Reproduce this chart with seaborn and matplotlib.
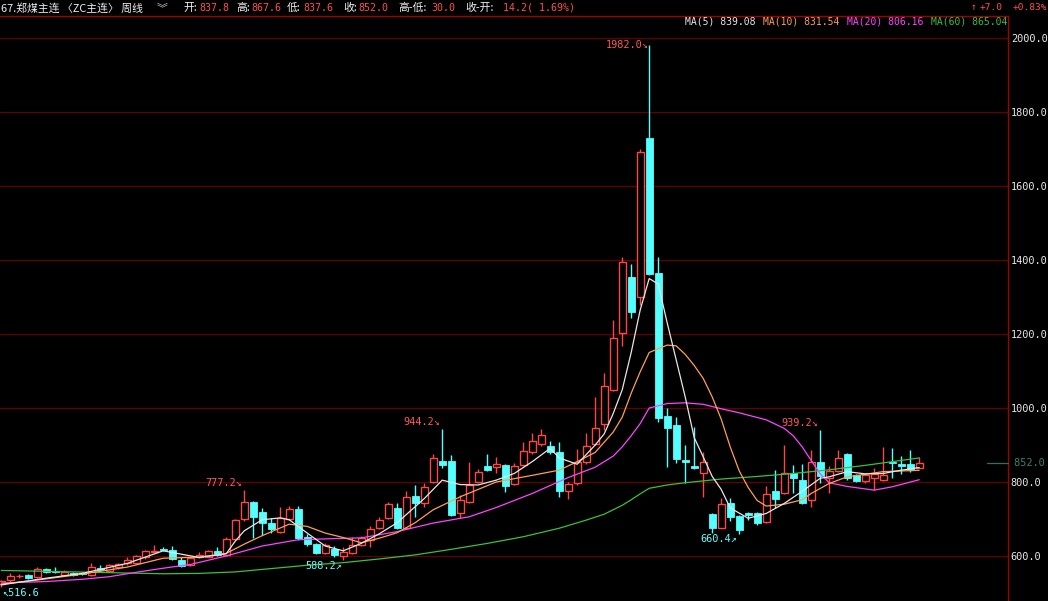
import numpy as np
import pandas as pd
import matplotlib
matplotlib.use("Agg")
import matplotlib.pyplot as plt
import matplotlib.transforms as mtransforms
import seaborn as sns

# ---------------- data (weekly OHLC) ----------------
opens = [524, 535, 545, 549, 544, 564, 560, 549, 553, 555,
         549, 568, 560, 569, 580, 582, 596, 612, 619, 616,
         590, 575, 596, 598, 613, 603, 647, 700, 745, 718,
         688, 666, 699, 726, 652, 633, 609, 619, 601, 608,
         629, 642, 675, 702, 729, 676, 762, 743, 799, 857,
         857, 716, 745, 800, 843, 840, 846, 795, 845, 880,
         904, 897, 881, 777, 796, 855, 904, 958, 1050, 1202,
         1355, 1301, 1731, 1366, 978, 954, 859, 843, 823, 713,
         677, 744, 708, 717, 715, 693, 776, 771, 825, 805,
         751, 855, 810, 830, 876, 819, 803, 812, 805, 855,
         850, 848, 837.8]
highs = [535, 553, 551, 552, 571, 567, 571, 563, 558, 557,
         582, 576, 578, 581, 598, 603, 615, 630, 625, 627,
         596, 596, 612, 615, 625, 652, 700, 777.2, 750, 729,
         704, 732, 735, 735, 660, 636, 636, 626, 625, 652,
         655, 680, 706, 747, 742, 777, 793, 796, 877, 944.2,
         873, 765, 855, 836, 876, 867, 850, 852, 909, 932,
         943, 910, 908, 800, 888, 933, 1030, 1094, 1238, 1408,
         1389, 1700, 1982.0, 1408, 999, 977, 900, 950, 880, 715,
         756, 756, 712, 720, 720, 789, 832, 900, 846, 850,
         886, 939.2, 843, 886, 878, 822, 822, 837, 895, 891,
         869, 886, 867.6]
lows = [516.6, 531, 540, 538, 540, 555, 554, 545, 546, 548,
        546, 559, 557, 566, 577, 579, 593, 610, 614, 588,
        571, 573, 594, 596, 600, 600, 643, 695, 648, 658,
        661, 663, 696, 643, 628, 605, 606, 598, 588.2, 605,
        626, 625, 672, 699, 673, 673, 705, 732, 796, 837,
        708, 702, 742, 796, 829, 825, 774, 792, 842, 877,
        897, 876, 760, 753, 792, 850, 900, 941, 1045, 1168,
        1242, 1278, 1360, 963, 841, 852, 796, 835, 760, 663,
        675, 695, 660.4, 697, 684, 688, 729, 768, 769, 741,
        733, 796, 769, 826, 805, 800, 796, 778, 802, 812,
        822, 826, 837.6]
closes = [532, 546, 547, 541, 565, 557, 557, 558, 549, 552,
          571, 562, 575, 578, 589, 600, 613, 614, 617, 592,
          573, 594, 602, 613, 603, 647, 697, 745, 706, 688,
          673, 704, 728, 650, 632, 609, 630, 603, 611, 631,
          648, 672, 697, 740, 676, 760, 744, 787, 864, 847,
          711, 751, 792, 828, 832, 848, 790, 842, 883, 910,
          927, 882, 777, 794, 854, 897, 946, 1060, 1188, 1394,
          1260, 1691, 1363, 972, 945, 862, 853, 838, 854, 677,
          740, 706, 670, 711, 690, 767, 754, 823, 812, 744,
          853, 816, 830, 864, 810, 803, 819, 821, 819, 851,
          843, 832, 852.0]

# moving averages (week index, value)
ma5_week = [0, 5, 9, 14, 18, 20, 22, 25, 26, 27, 29, 31, 32, 34, 36, 38, 40, 42, 44,
            47, 49, 51, 53, 55, 57, 59, 61, 62, 64, 66, 67, 68, 69, 70, 71, 72, 73,
            74, 75, 76, 77, 78, 79, 80, 81, 83, 85, 87, 89, 91, 92, 94, 96, 98, 100, 102]
ma5_val = [522, 540, 553, 580, 614, 605, 596, 606, 640, 668, 698, 703, 698, 662, 627,
           614, 634, 660, 690, 755, 805, 793, 792, 805, 823, 855, 891, 865, 848, 900,
           930, 985, 1049, 1150, 1265, 1350, 1335, 1230, 1130, 1030, 920, 868, 815,
           780, 730, 702, 715, 742, 775, 810, 814, 828, 822, 823, 832, 839.08]
ma10_week = [0, 4, 9, 14, 18, 22, 25, 27, 29, 32, 34, 36, 38, 40, 42, 44, 46, 48, 51,
             55, 59, 62, 64, 66, 68, 69, 70, 71, 72, 74, 75, 76, 77, 78, 79, 80, 81,
             82, 83, 84, 85, 87, 89, 90, 92, 94, 98, 102]
ma10_val = [524, 535, 551, 570, 594, 597, 607, 632, 655, 686, 680, 662, 650, 636, 648,
            663, 690, 725, 760, 800, 818, 832, 855, 880, 935, 975, 1040, 1098, 1150,
            1170, 1168, 1145, 1115, 1080, 1030, 970, 895, 830, 785, 750, 735, 740,
            752, 769, 796, 814, 828, 831.54]
ma20_week = [0, 5, 9, 12, 15, 18, 21, 25, 29, 33, 37, 40, 44, 48, 52, 55, 59, 63, 66,
             68, 69, 70, 71, 72, 74, 76, 78, 80, 82, 85, 87, 88, 89, 90, 91, 92, 94,
             97, 99, 102]
ma20_val = [527, 531, 537, 544, 556, 567, 577, 600, 627, 644, 647, 649, 666, 689, 706,
            731, 769, 812, 840, 870, 895, 925, 958, 1000, 1012, 1014, 1010, 998, 987,
            968, 945, 925, 895, 858, 822, 798, 788, 778, 787, 806.16]
ma60_week = [0, 6, 12, 18, 22, 26, 30, 34, 38, 42, 46, 50, 54, 58, 62, 65, 67, 69, 70,
             71, 72, 74, 76, 80, 84, 88, 92, 96, 99, 102]
ma60_val = [561, 558, 555, 552, 553, 557, 566, 575, 582, 592, 603, 618, 634, 652, 675,
            697, 713, 737, 752, 768, 783, 792, 798, 808, 815, 823, 833, 845, 855, 865.04]

yticks = [600, 800, 1000, 1200, 1400, 1600, 1800, 2000]

# ---------------- styling ----------------
sns.set_theme(style="dark", rc={"axes.facecolor": "black", "figure.facecolor": "black"})
plt.rcParams["font.family"] = ["DejaVu Sans Mono", "DejaVu Sans"]

UP = "#ff4646"
DN = "#54ffff"
C5, C10, C20, C60 = "#e6e6e6", "#ffa050", "#ff44ff", "#3cc03c"
AXRED = "#a00000"
GRID = "#640000"
MONO = ["DejaVu Sans Mono", "DejaVu Sans"]
CJK = ["Noto Sans CJK SC", "DejaVu Sans"]

W, H = 1048, 601
fig = plt.figure(figsize=(W / 100, H / 100), dpi=100)
ax = fig.add_axes([0, 0, 1008 / W, 1 - 16 / H])
ax.set_facecolor("black")

df = pd.DataFrame({"open": opens, "high": highs, "low": lows, "close": closes})
df["week"] = np.arange(len(df))
up = df["close"] >= df["open"]

# wicks
ax.vlines(df["week"], df["low"], df["high"],
          colors=np.where(up, UP, DN), lw=1, zorder=2)
# up candles: hollow red
u = df[up]
ax.bar(u["week"], u["close"] - u["open"], bottom=u["open"], width=0.74,
       facecolor="black", edgecolor=UP, lw=1, zorder=3)
# down candles: filled cyan
d = df[~up]
ax.bar(d["week"], d["open"] - d["close"], bottom=d["close"], width=0.74,
       facecolor=DN, edgecolor=DN, lw=0.6, zorder=3)

# moving averages
for wk, val, col in [(ma60_week, ma60_val, C60), (ma20_week, ma20_val, C20),
                     (ma10_week, ma10_val, C10), (ma5_week, ma5_val, C5)]:
    sns.lineplot(x=wk, y=val, ax=ax, color=col, lw=0.9, zorder=4)

# axes limits map week index / price onto the pixel frame
ax.set_xlim(-1.2 / 9, (1008 - 1.2) / 9)
ax.set_ylim(2000 - (601 - 38) / 0.37, 2000 + (38 - 16) / 0.37)

for s in ["left", "bottom"]:
    ax.spines[s].set_visible(False)
for s in ["top", "right"]:
    ax.spines[s].set_visible(True)
    ax.spines[s].set_color(AXRED)
    ax.spines[s].set_linewidth(1)

ax.set_xticks([])
ax.yaxis.tick_right()
ax.set_yticks(yticks)
ax.set_yticklabels([f"{v:.1f}" for v in yticks])
ax.tick_params(axis="y", length=0, pad=2, labelsize=7.4, labelcolor="#e8e8e8")
for t in ax.get_yticklabels():
    t.set_family(MONO)
ax.grid(axis="y", color=GRID, lw=0.9)
ax.grid(axis="x", visible=False)
ax.set_xlabel("")
ax.set_ylabel("")

# last price marker on the right
last = closes[-1]
trans = mtransforms.blended_transform_factory(ax.transAxes, ax.transData)
ax.plot([987 / 1008, 1.0], [last, last], color="#2f7060", lw=0.9, transform=trans,
        clip_on=False, zorder=5)
ax.text(1.0, last, f" {last:.1f}", transform=trans, color="#3c8070", fontsize=7.4,
        family=MONO, va="center", ha="left")

# extreme-value annotations
def note(k, price, txt, col, dx, dy, ha):
    ax.annotate(txt, xy=(k, price), xytext=(dx * 0.72, dy * 0.72),
                textcoords="offset points", color=col, fontsize=7.4, family=MONO,
                ha=ha, va="center", zorder=6)

hi_c = "#ff5a5a"
lo_c = "#66ffff"
note(72, highs[72], f"{highs[72]:.1f}↘", hi_c, -1, -0.5, "right")
note(49, highs[49], f"{highs[49]:.1f}↘", hi_c, -2, 6.5, "right")
note(27, highs[27], f"{highs[27]:.1f}↘", hi_c, -2, 7, "right")
note(91, highs[91], f"{highs[91]:.1f}↘", hi_c, -2, 7, "right")
note(38, lows[38], f"{lows[38]:.1f}↗", lo_c, -1, -5.5, "right")
note(82, lows[82], f"{lows[82]:.1f}↗", lo_c, -2, -5, "right")
note(0, lows[0], f"↖{lows[0]:.1f}", lo_c, 0.5, -6, "left")

# ---------------- header ----------------
def ftext(xp, yp, s, col, fam, size, ha="left"):
    fig.text(xp / W, 1 - yp / H, s, color=col, family=fam, fontsize=size,
             ha=ha, va="center")

WH = "#f0f0f0"
RD = "#ff5050"
CJK_SIZE = 7.8
ftext(1, 8, "67.郑煤主连 〈ZC主连〉 周线", WH, CJK, CJK_SIZE)
ftext(157, 8, "︾", "#c8c8c8", CJK, CJK_SIZE)
header = [(183, "开:", 199, f"{opens[-1]:.1f}"),
          (236, "高:", 251, f"{highs[-1]:.1f}"),
          (287, "低:", 303, f"{lows[-1]:.1f}"),
          (343, "收:", 358, f"{closes[-1]:.1f}"),
          (398, "高-低:", 431, f"{highs[-1] - lows[-1]:.1f}"),
          (465, "收-开:", 503, f"{closes[-1] - opens[-1]:.1f}( {(closes[-1] - opens[-1]) / opens[-1] * 100:.2f}%)")]
for xl, lab, xv, val in header:
    ftext(xl, 8, lab, WH, CJK, CJK_SIZE)
    ftext(xv, 8, val, RD, MONO, 7.2)

ftext(971, 7, "↑", RD, MONO, 7.0)
ftext(980, 7, "+7.0", RD, MONO, 6.8)
ftext(1047, 7, "+0.83%", RD, MONO, 6.8, ha="right")

# MA legend
legend = [(685, f"MA(5) {ma5_val[-1]:.2f}", C5), (763, f"MA(10) {ma10_val[-1]:.2f}", C10),
          (847, f"MA(20) {ma20_val[-1]:.2f}", C20), (931, f"MA(60) {ma60_val[-1]:.2f}", C60)]
for xp, s, col in legend:
    ftext(xp, 22, s, col, MONO, 7.0)

fig.savefig("out.png", dpi=100, facecolor="black")
